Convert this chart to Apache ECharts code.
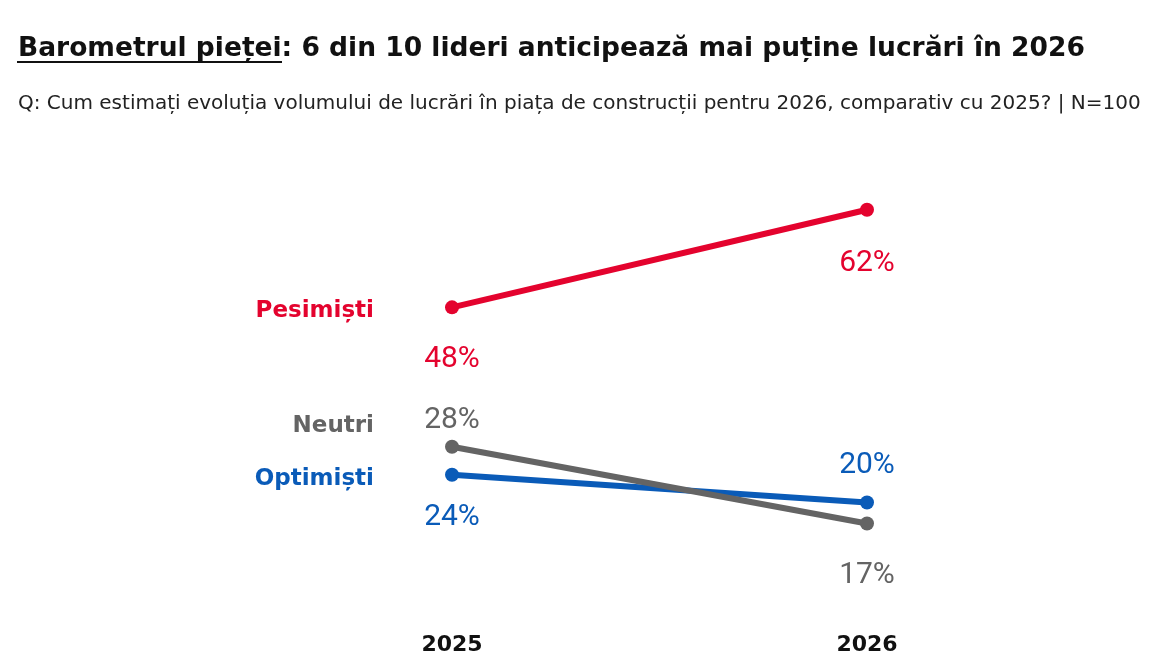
<!DOCTYPE html>
<html lang="ro">
<head>
    <meta charset="UTF-8">
    <script src="https://cdn.jsdelivr.net/npm/echarts@6/dist/echarts.min.js"></script>
    <title>Barometrul pieței</title>
    <style>
        html, body { margin: 0; padding: 0; background: #fff; }
        #chart { width: 1156px; height: 671px; }
    </style>
</head>
<body>
    <div id="chart"></div>
<script>
    // date
    var ani = ['2025', '2026'];
    var pesimisti = [48, 62];
    var neutri = [28, 17];
    var optimisti = [24, 20];

    var rosu = '#e4032e';
    var gri = '#646464';
    var albastru = '#0a5bb8';

    var fontTitlu = '"DejaVu Sans", sans-serif';
    var fontCifre = 'Roboto, sans-serif';

    // eticheta valorii: deasupra sau dedesubt, la distanta data
    function eticheta(pos, dist) {
        return {
            show: true,
            position: pos,
            distance: dist,
            fontFamily: fontCifre,
            fontSize: 30,
            formatter: '{c}%'
        };
    }

    function serie(nume, valori, culoare, dy, labels) {
        return {
            name: nume,
            type: 'line',
            data: valori.map(function (v, i) {
                return { value: v, label: labels[i] };
            }),
            symbol: 'circle',
            symbolSize: 14,
            lineStyle: { width: 6, color: culoare },
            itemStyle: { color: culoare },
            label: { color: culoare },
            emphasis: { disabled: true },
            markPoint: {
                symbol: 'circle',
                symbolSize: 0,
                silent: true,
                data: [{
                    coord: [0, valori[0]],
                    label: {
                        show: true,
                        position: 'left',
                        distance: 78,
                        offset: [0, dy],
                        formatter: nume,
                        color: culoare,
                        fontFamily: fontTitlu,
                        fontWeight: 'bold',
                        fontSize: 23
                    }
                }]
            }
        };
    }

    var myChart = echarts.init(document.getElementById('chart'));
    myChart.setOption({
        animation: false,
        title: [{
            text: 'Barometrul pieței: 6 din 10 lideri anticipează mai puține lucrări în 2026',
            left: 13,
            top: 31,
            textStyle: {
                fontFamily: fontTitlu,
                fontWeight: 'bold',
                fontSize: 26.5,
                color: '#111'
            }
        }, {
            text: 'Q: Cum estimați evoluția volumului de lucrări în piața de construcții pentru 2026, comparativ cu 2025? | N=100',
            left: 13,
            top: 89,
            textStyle: {
                fontFamily: fontTitlu,
                fontWeight: 'normal',
                fontSize: 20,
                color: '#222'
            }
        }],
        graphic: [{
            type: 'line',
            shape: { x1: 17, y1: 62, x2: 282, y2: 62 },
            style: { stroke: '#111', lineWidth: 2 }
        }],
        grid: { left: 452, right: 289, top: 154, bottom: 29 },
        xAxis: {
            type: 'category',
            data: ani,
            boundaryGap: false,
            axisLine: { show: false },
            axisTick: { show: false },
            axisLabel: {
                margin: -8,
                fontFamily: fontTitlu,
                fontWeight: 'bold',
                fontSize: 22,
                color: '#111'
            }
        },
        yAxis: {
            type: 'value',
            min: 0,
            max: 70,
            show: false
        },
        series: [
            serie('Optimiști', optimisti, albastru, 4,
                [eticheta('bottom', 21), eticheta('top', 15)]),
            serie('Pesimiști', pesimisti, rosu, 4,
                [eticheta('bottom', 30), eticheta('bottom', 32)]),
            serie('Neutri', neutri, gri, -21,
                [eticheta('top', 4), eticheta('bottom', 30)])
        ]
    });
</script>
</body>
</html>
